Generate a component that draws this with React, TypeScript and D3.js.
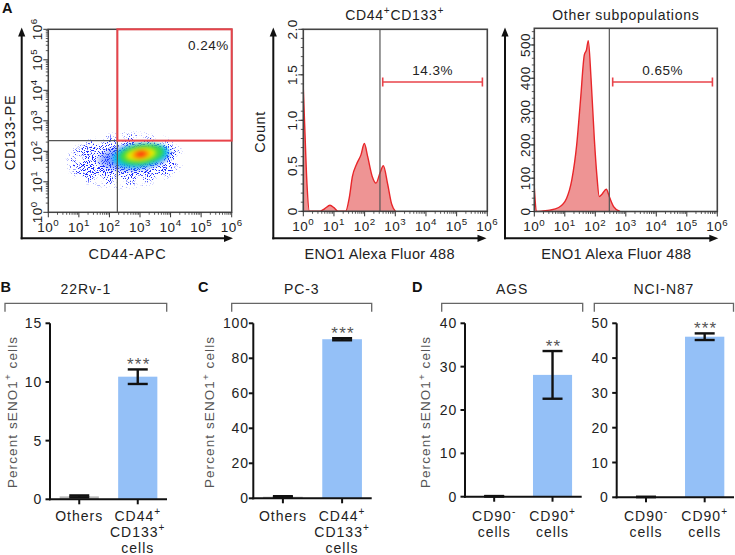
import React from "react";
import * as d3 from "d3";

const FONT = "Arial, 'Liberation Sans', Helvetica, sans-serif";

// ---------------- Panel A : flow cytometry ----------------
const decadeExponents = [0, 1, 2, 3, 4, 5, 6];
const minorMultipliers = [2, 3, 4, 5, 6, 7, 8, 9];
const scatterXLabel = "CD44-APC";
const scatterYLabel = "CD133-PE";
const scatterGateLogCD44 = 2.26;
const scatterGateLogCD133 = 2.35;
const scatterGatePercent = "0.24%";

// density levels of the dot plot (outer -> core)
const densityColors = ["#1e2cff", "#2050ff", "#00bff2", "#3fd846", "#e6ec00", "#ff9a00", "#ff2a10"];
const densityCenterLogX = [2.51, 2.8, 3.02, 3.05, 3.03, 3.03, 3.03];
const densityCenterLogY = [1.71, 1.8, 1.87, 1.9, 1.9, 1.9, 1.91];
const densitySpreadLogX = [1.75, 1.28, 0.92, 0.74, 0.5, 0.3, 0.16];
const densitySpreadLogY = [0.68, 0.48, 0.38, 0.32, 0.22, 0.14, 0.08];
const densityTiltDeg = [-3, -5, -8, -8, -8, -8, -8];

const hist1Title = "CD44^+CD133^+";
const hist1LogIntensity = [0, 0.05, 0.12, 0.2, 0.55, 0.7, 0.87, 1.0, 1.13, 1.38, 1.5, 1.6, 1.74, 1.88, 1.99, 2.1, 2.25, 2.37, 2.5, 2.61, 2.75, 2.88, 3.0];
const hist1Count = [1.35, 0.9, 0.3, 0, 0, 0.03, 0.066, 0.04, 0, 0, 0.15, 0.38, 0.52, 0.62, 0.745, 0.6, 0.38, 0.31, 0.42, 0.5, 0.3, 0.08, 0];
const hist1YTicks = [0, 0.5, 1.0, 1.5, 2.0];
const hist1YTickLabels = ["0", "0.5", "1.0", "1.5", "2.0"];
const hist1YMax = 2.0;
const hist1GateLog = 2.5;
const hist1MarkerLog = [2.59, 5.84];
const hist1Percent = "14.3%";

const hist2Title = "Other subpopulations";
const hist2LogIntensity = [0, 0.03, 0.08, 0.3, 0.5, 0.8, 1.06, 1.23, 1.39, 1.52, 1.64, 1.71, 1.77, 1.86, 1.97, 2.05, 2.13, 2.22, 2.36, 2.47, 2.6, 2.81];
const hist2Count = [72, 30, 0, 2, 4, 12, 40, 95, 200, 340, 470, 485, 513, 400, 215, 110, 45, 52, 67, 42, 15, 0];
const hist2YTicks = [0, 100, 200, 300, 400, 500];
const hist2YTickLabels = ["0", "100", "200", "300", "400", "500"];
const hist2YMax = 550;
const hist2GateLog = 2.46;
const hist2MarkerLog = [2.57, 5.84];
const hist2Percent = "0.65%";

const histXLabel = "ENO1 Alexa Fluor 488";
const histYLabel = "Count";

// ---------------- Panels B, C, D : bar charts ----------------
const barChartTitles = ["22Rv-1", "PC-3", "AGS", "NCI-N87"];
const barCategoryLabels = [
  [["Others"], ["CD44^+", "CD133^+", "cells"]],
  [["Others"], ["CD44^+", "CD133^+", "cells"]],
  [["CD90^-", "cells"], ["CD90^+", "cells"]],
  [["CD90^-", "cells"], ["CD90^+", "cells"]],
];
const barMeans = [
  [0.25, 10.45],
  [0.9, 90.9],
  [0.1, 28.1],
  [0.1, 46.15],
];
const barErrors = [
  [0.08, 0.62],
  [0.3, 0.6],
  [0.05, 5.5],
  [0.05, 0.95],
];
const barStars = ["***", "***", "**", "***"];
const barYMax = [15, 100, 40, 50];
const barYStep = [5, 20, 10, 10];
const barYLabel = "Percent sENO1^+ cells";
const panelLetters = ["A", "B", "C", "D"];

// ---------------- layout (positions, not data) ----------------
const barLayouts = [
  { axisX: 50, xEnd: 167, yTop: 323.3, yBottom: 499.3, bracket: [5, 166.7], gap: 8, yTitleX: 16.7 },
  { axisX: 253.3, xEnd: 371.7, yTop: 323.3, yBottom: 498.3, bracket: [231.7, 371.7], gap: 4.5, yTitleX: 214 },
  { axisX: 465, xEnd: 581.7, yTop: 323.3, yBottom: 496.7, bracket: [441.7, 582.7], gap: 8, yTitleX: 430 },
  { axisX: 616.7, xEnd: 734, yTop: 323.3, yBottom: 497.3, bracket: [594.3, 733.5], gap: 8, yTitleX: null as number | null },
];

function rich(text: string, fs: number, kp = "") {
  const parts = text.split(/(\^.)/).filter((p) => p.length > 0);
  const shift = fs * 0.4;
  const nodes: React.ReactNode[] = [];
  let raised = false;
  parts.forEach((p, i) => {
    if (p[0] === "^") {
      nodes.push(
        <tspan key={kp + i} dy={raised ? 0 : -shift} fontSize={fs * 0.72}>
          {p.slice(1)}
        </tspan>
      );
      raised = true;
    } else {
      nodes.push(
        <tspan key={kp + i} dy={raised ? shift : 0}>
          {p}
        </tspan>
      );
      raised = false;
    }
  });
  return nodes;
}

function ArrowAxes({ x, yBottom, yTip, xTip }: { x: number; yBottom: number; yTip: number; xTip: number }) {
  return (
    <g>
      <line x1={x} y1={yBottom + 1} x2={x} y2={yTip + 6} stroke="#111" strokeWidth={2} />
      <path d={`M${x},${yTip} L${x - 3.6},${yTip + 9} L${x + 3.6},${yTip + 9}Z`} fill="#111" />
      <line x1={x - 1} y1={yBottom} x2={xTip - 6} y2={yBottom} stroke="#111" strokeWidth={2} />
      <path d={`M${xTip},${yBottom} L${xTip - 9},${yBottom - 3.6} L${xTip - 9},${yBottom + 3.6}Z`} fill="#111" />
    </g>
  );
}

function LogXAxis({ xS, y }: { xS: d3.ScaleLinear<number, number>; y: number }) {
  const els: React.ReactNode[] = [];
  decadeExponents.forEach((d) => {
    els.push(<line key={"M" + d} x1={xS(d)} x2={xS(d)} y1={y} y2={y + 5} stroke="#333" strokeWidth={1} />);
    if (d < 6)
      minorMultipliers.forEach((m) => {
        const v = xS(d + Math.log10(m));
        els.push(<line key={"m" + d + "_" + m} x1={v} x2={v} y1={y} y2={y + 2.5} stroke="#333" strokeWidth={0.8} />);
      });
    els.push(
      <text key={"t" + d} x={xS(d)} y={y + 19.4} textAnchor="middle" fontSize={13.5} letterSpacing={0.5} fill="#222">
        {rich("10^" + d, 13.5, "x" + d)}
      </text>
    );
  });
  return <g>{els}</g>;
}

function LogYAxis({ yS, x, labelX }: { yS: d3.ScaleLinear<number, number>; x: number; labelX: number }) {
  const els: React.ReactNode[] = [];
  decadeExponents.forEach((d) => {
    els.push(<line key={"M" + d} x1={x} x2={x - 5} y1={yS(d)} y2={yS(d)} stroke="#333" strokeWidth={1} />);
    if (d < 6)
      minorMultipliers.forEach((m) => {
        const v = yS(d + Math.log10(m));
        els.push(<line key={"m" + d + "_" + m} x1={x} x2={x - 2.5} y1={v} y2={v} stroke="#333" strokeWidth={0.8} />);
      });
    els.push(
      <text
        key={"t" + d}
        transform={`translate(${labelX},${yS(d)}) rotate(-90)`}
        textAnchor="middle"
        fontSize={13.5}
        letterSpacing={0.5}
        fill="#222"
      >
        {rich("10^" + d, 13.5, "y" + d)}
      </text>
    );
  });
  return <g>{els}</g>;
}

function LinYAxis({
  yS,
  x,
  labelX,
  ticks,
  labels,
  minorStep,
  max,
}: {
  yS: d3.ScaleLinear<number, number>;
  x: number;
  labelX: number;
  ticks: number[];
  labels: string[];
  minorStep: number;
  max: number;
}) {
  const minors = d3.range(0, max + 1e-9, minorStep);
  return (
    <g>
      {minors.map((v, i) => (
        <line key={"m" + i} x1={x} x2={x - 2.5} y1={yS(v)} y2={yS(v)} stroke="#333" strokeWidth={0.8} />
      ))}
      {ticks.map((v, i) => (
        <g key={"t" + i}>
          <line x1={x} x2={x - 5} y1={yS(v)} y2={yS(v)} stroke="#333" strokeWidth={1} />
          <text
            transform={`translate(${labelX},${yS(v)}) rotate(-90)`}
            textAnchor="middle"
            fontSize={13.5}
            letterSpacing={0.5}
            fill="#222"
          >
            {labels[i]}
          </text>
        </g>
      ))}
    </g>
  );
}

function ScatterPanel() {
  const box = { x0: 48.3, x1: 231.7, y0: 29.3, y1: 212.3 };
  const xS = d3.scaleLinear().domain([0, 6]).range([box.x0, box.x1]);
  const yS = d3.scaleLinear().domain([0, 6]).range([box.y1, box.y0]);
  const gx = xS(scatterGateLogCD44);
  const gy = yS(scatterGateLogCD133);
  const layer = (i: number) => {
    const cx = xS(densityCenterLogX[i]);
    const cy = yS(densityCenterLogY[i]);
    const rx = xS(densityCenterLogX[i] + densitySpreadLogX[i]) - cx;
    const ry = cy - yS(densityCenterLogY[i] + densitySpreadLogY[i]);
    return (
      <ellipse
        key={"d" + i}
        cx={cx}
        cy={cy}
        rx={rx}
        ry={ry}
        fill={densityColors[i]}
        transform={`rotate(${densityTiltDeg[i]},${cx},${cy})`}
      />
    );
  };
  return (
    <g>
      <defs>
        <clipPath id="scatterClip">
          <rect x={box.x0} y={box.y0} width={box.x1 - box.x0} height={box.y1 - box.y0} />
        </clipPath>
        <filter id="speckleSparse" x="-30%" y="-60%" width="160%" height="220%" colorInterpolationFilters="sRGB">
          <feGaussianBlur in="SourceGraphic" stdDeviation="8" result="soft" />
          <feTurbulence type="fractalNoise" baseFrequency="0.95" numOctaves="1" seed="11" result="noise" />
          <feColorMatrix in="noise" type="matrix" values="0 0 0 0 0  0 0 0 0 0  0 0 0 0 0  7 0 0 0 -3.75" result="dots" />
          <feComposite in="soft" in2="dots" operator="in" result="speck" />
          <feComponentTransfer in="speck">
            <feFuncA type="linear" slope="4" intercept="-0.45" />
          </feComponentTransfer>
        </filter>
        <filter id="speckleMid" x="-30%" y="-60%" width="160%" height="220%" colorInterpolationFilters="sRGB">
          <feGaussianBlur in="SourceGraphic" stdDeviation="5" result="soft" />
          <feTurbulence type="fractalNoise" baseFrequency="1.0" numOctaves="1" seed="3" result="noise" />
          <feColorMatrix in="noise" type="matrix" values="0 0 0 0 0  0 0 0 0 0  0 0 0 0 0  5 0 0 0 -2.2" result="dots" />
          <feComposite in="soft" in2="dots" operator="in" result="speck" />
          <feComponentTransfer in="speck">
            <feFuncA type="linear" slope="3" intercept="-0.35" />
          </feComponentTransfer>
        </filter>
        <filter id="speckleDense" x="-50%" y="-50%" width="200%" height="200%" colorInterpolationFilters="sRGB">
          <feGaussianBlur in="SourceGraphic" stdDeviation="2.2" result="soft" />
          <feTurbulence type="fractalNoise" baseFrequency="1.0" numOctaves="1" seed="8" result="noise" />
          <feColorMatrix in="noise" type="matrix" values="0 0 0 0 0  0 0 0 0 0  0 0 0 0 0  4 0 0 0 -0.9" result="dots" />
          <feComposite in="soft" in2="dots" operator="in" />
        </filter>
      </defs>
      <g clipPath="url(#scatterClip)">
        <g filter="url(#speckleSparse)">{[0].map(layer)}</g>
        <g filter="url(#speckleMid)">{[1].map(layer)}</g>
        <g filter="url(#speckleDense)">{[2, 3, 4, 5, 6].map(layer)}</g>
      </g>
      <rect x={box.x0} y={box.y0} width={box.x1 - box.x0} height={box.y1 - box.y0} fill="none" stroke="#444" strokeWidth={1.5} />
      <line x1={gx} x2={gx} y1={box.y0} y2={box.y1} stroke="#555" strokeWidth={1.3} />
      <line x1={box.x0} x2={gx} y1={gy} y2={gy} stroke="#555" strokeWidth={1.3} />
      <rect x={gx} y={box.y0} width={box.x1 - gx} height={gy - box.y0} fill="none" stroke="#e8434a" strokeWidth={2} />
      <text x={208.3} y={50} textAnchor="middle" fontSize={13.5} letterSpacing={0.5} fill="#222">
        {scatterGatePercent}
      </text>
      <LogXAxis xS={xS} y={box.y1} />
      <LogYAxis yS={yS} x={box.x0} labelX={42} />
      <ArrowAxes x={21.7} yBottom={238.3} yTip={27.5} xTip={233} />
      <text x={127.5} y={259} textAnchor="middle" fontSize={14.5} letterSpacing={0.8} fill="#222">
        {scatterXLabel}
      </text>
      <text transform={`translate(15,132.5) rotate(-90)`} textAnchor="middle" fontSize={14.5} letterSpacing={0.8} fill="#222">
        {scatterYLabel}
      </text>
    </g>
  );
}

function HistPanel({
  id,
  box,
  logX,
  counts,
  yMax,
  ticks,
  tickLabels,
  minorStep,
  labelX,
  gateLog,
  markerLog,
  percent,
  title,
  titleX,
  arrowX,
  arrowTip,
  yTitleX,
  xTitleX,
}: {
  id: string;
  box: { x0: number; x1: number; y0: number; y1: number };
  logX: number[];
  counts: number[];
  yMax: number;
  ticks: number[];
  tickLabels: string[];
  minorStep: number;
  labelX: number;
  gateLog: number;
  markerLog: number[];
  percent: string;
  title: string;
  titleX: number;
  arrowX: number;
  arrowTip: number;
  yTitleX: number | null;
  xTitleX: number;
}) {
  const xS = d3.scaleLinear().domain([0, 6]).range([box.x0, box.x1]);
  const yS = d3.scaleLinear().domain([0, yMax]).range([box.y1, box.y0]);
  const pts: [number, number][] = logX.map((v, i) => [v, counts[i]]);
  const area = d3
    .area<[number, number]>()
    .x((d) => xS(d[0]))
    .y0(yS(0))
    .y1((d) => yS(d[1]))
    .curve(d3.curveMonotoneX);
  const line = d3
    .line<[number, number]>()
    .x((d) => xS(d[0]))
    .y((d) => yS(d[1]))
    .curve(d3.curveMonotoneX);
  const mx0 = xS(markerLog[0]);
  const mx1 = xS(markerLog[1]);
  const my = 82;
  return (
    <g>
      <defs>
        <clipPath id={id + "clip"}>
          <rect x={box.x0} y={box.y0} width={box.x1 - box.x0} height={box.y1 - box.y0} />
        </clipPath>
      </defs>
      <g clipPath={`url(#${id}clip)`}>
        <path d={area(pts) || ""} fill="#ee9494" />
        <path d={line(pts) || ""} fill="none" stroke="#e8262a" strokeWidth={1.4} />
      </g>
      <line x1={xS(gateLog)} x2={xS(gateLog)} y1={box.y0} y2={box.y1} stroke="#555" strokeWidth={1.2} />
      <rect x={box.x0} y={box.y0} width={box.x1 - box.x0} height={box.y1 - box.y0} fill="none" stroke="#444" strokeWidth={1.6} />
      <line x1={mx0} x2={mx1} y1={my} y2={my} stroke="#e8434a" strokeWidth={1.6} />
      <line x1={mx0} x2={mx0} y1={my - 4.5} y2={my + 4.5} stroke="#e8434a" strokeWidth={1.6} />
      <line x1={mx1} x2={mx1} y1={my - 4.5} y2={my + 4.5} stroke="#e8434a" strokeWidth={1.6} />
      <text x={(mx0 + mx1) / 2} y={75} textAnchor="middle" fontSize={13.5} letterSpacing={0.5} fill="#222">
        {percent}
      </text>
      <text x={titleX} y={19.5} textAnchor="middle" fontSize={14} letterSpacing={0.7} fill="#222">
        {rich(title, 14, id + "t")}
      </text>
      <LogXAxis xS={xS} y={box.y1} />
      <LinYAxis yS={yS} x={box.x0} labelX={labelX} ticks={ticks} labels={tickLabels} minorStep={minorStep} max={yMax} />
      <ArrowAxes x={arrowX} yBottom={238.3} yTip={27.5} xTip={arrowTip} />
      <text x={xTitleX} y={259} textAnchor="middle" fontSize={14.5} letterSpacing={0.3} fill="#222">
        {histXLabel}
      </text>
      {yTitleX !== null && (
        <text transform={`translate(${yTitleX},132) rotate(-90)`} textAnchor="middle" fontSize={14.5} letterSpacing={0.6} fill="#222">
          {histYLabel}
        </text>
      )}
    </g>
  );
}

function BarChart({ i }: { i: number }) {
  const L = barLayouts[i];
  const idx = [0, 1];
  const xS = d3.scaleBand<number>().domain(idx).range([L.axisX, L.xEnd]).paddingInner(0.33).paddingOuter(0.165);
  const yS = d3.scaleLinear().domain([0, barYMax[i]]).range([L.yBottom, L.yTop]);
  const ticks = d3.range(0, barYMax[i] + 1e-9, barYStep[i]);
  const bw = xS.bandwidth();
  const fills = ["#b8b8b8", "#94c0f7"];
  const bx0 = L.bracket[0];
  const bx1 = L.bracket[1];
  return (
    <g>
      <path d={`M${bx0},311.7 V303.3 H${bx1} V311.7`} fill="none" stroke="#666" strokeWidth={1.3} />
      <text x={(bx0 + bx1) / 2} y={294} textAnchor="middle" fontSize={14} letterSpacing={0.9} fill="#222">
        {barChartTitles[i]}
      </text>
      {idx.map((k) => {
        const cx = (xS(k) as number) + bw / 2;
        const m = barMeans[i][k];
        const e = barErrors[i][k];
        return (
          <g key={"b" + k}>
            <rect x={xS(k)} y={yS(m)} width={bw} height={yS(0) - yS(m)} fill={fills[k]} />
            <line x1={cx} x2={cx} y1={yS(m + e)} y2={yS(m - e)} stroke="#111" strokeWidth={2.4} />
            <line x1={cx - 10} x2={cx + 10} y1={yS(m + e)} y2={yS(m + e)} stroke="#111" strokeWidth={2.4} />
            <line x1={cx - 10} x2={cx + 10} y1={yS(m - e)} y2={yS(m - e)} stroke="#111" strokeWidth={2.4} />
            {k === 1 && (
              <text x={cx + 1} y={yS(m + e) + 1} textAnchor="middle" fontSize={17} letterSpacing={1.2} fill="#555">
                {barStars[i]}
              </text>
            )}
            <line x1={cx} x2={cx} y1={L.yBottom} y2={L.yBottom + 5} stroke="#111" strokeWidth={2} />
            {barCategoryLabels[i][k].map((ln, j) => (
              <text key={"c" + j} x={cx} y={521 + j * 16} textAnchor="middle" fontSize={14} letterSpacing={1} fill="#222">
                {rich(ln, 14, "c" + i + k + j)}
              </text>
            ))}
          </g>
        );
      })}
      <line x1={L.axisX} x2={L.axisX} y1={L.yTop} y2={L.yBottom + 1} stroke="#111" strokeWidth={2} />
      <line x1={L.axisX - 1} x2={L.xEnd} y1={L.yBottom} y2={L.yBottom} stroke="#111" strokeWidth={2} />
      {ticks.map((t, j) => (
        <g key={"t" + j}>
          <line x1={L.axisX} x2={L.axisX - 4.5} y1={yS(t)} y2={yS(t)} stroke="#111" strokeWidth={2} />
          <text x={L.axisX - L.gap} y={yS(t) + 5} textAnchor="end" fontSize={14} letterSpacing={0.8} fill="#222">
            {t}
          </text>
        </g>
      ))}
      {L.yTitleX !== null && (
        <text
          transform={`translate(${L.yTitleX},412) rotate(-90)`}
          textAnchor="middle"
          fontSize={13.5}
          letterSpacing={1.1}
          fill="#555"
        >
          {rich(barYLabel, 13.5, "y" + i)}
        </text>
      )}
    </g>
  );
}

export default function App() {
  return (
    <svg
      width={735}
      height={555}
      viewBox="0 0 735 555"
      style={{ position: "absolute", left: 0, top: 0, background: "#fff" }}
      fontFamily={FONT}
    >
      <rect x={0} y={0} width={735} height={555} fill="#fff" />
      <ScatterPanel />
      <HistPanel
        id="h1"
        box={{ x0: 303.3, x1: 487.3, y0: 29.3, y1: 211.3 }}
        logX={hist1LogIntensity}
        counts={hist1Count}
        yMax={hist1YMax}
        ticks={hist1YTicks}
        tickLabels={hist1YTickLabels}
        minorStep={0.1}
        labelX={296.7}
        gateLog={hist1GateLog}
        markerLog={hist1MarkerLog}
        percent={hist1Percent}
        title={hist1Title}
        titleX={394.7}
        arrowX={273.3}
        arrowTip={486.5}
        yTitleX={265}
        xTitleX={379.7}
      />
      <HistPanel
        id="h2"
        box={{ x0: 534.3, x1: 717.3, y0: 28.3, y1: 211.5 }}
        logX={hist2LogIntensity}
        counts={hist2Count}
        yMax={hist2YMax}
        ticks={hist2YTicks}
        tickLabels={hist2YTickLabels}
        minorStep={20}
        labelX={530}
        gateLog={hist2GateLog}
        markerLog={hist2MarkerLog}
        percent={hist2Percent}
        title={hist2Title}
        titleX={625.8}
        arrowX={505}
        arrowTip={718.3}
        yTitleX={null}
        xTitleX={616.3}
      />
      {[0, 1, 2, 3].map((i) => (
        <BarChart key={i} i={i} />
      ))}
      <g fontWeight="bold" fontSize={14.5} fill="#111">
        <text x={2} y={13}>{panelLetters[0]}</text>
        <text x={0.5} y={292}>{panelLetters[1]}</text>
        <text x={198} y={292}>{panelLetters[2]}</text>
        <text x={412} y={292}>{panelLetters[3]}</text>
      </g>
    </svg>
  );
}
